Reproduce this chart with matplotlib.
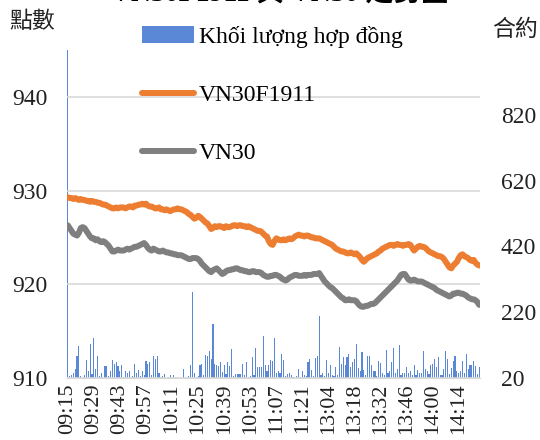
import matplotlib
matplotlib.use("Agg")
import matplotlib.pyplot as plt

plt.rcParams['font.family'] = ['Liberation Serif', 'Noto Sans CJK TC']

# time axis: morning 09:15-11:30, afternoon 13:00-14:25 (one point per minute)
morning = [f"{h:02d}:{m:02d}" for h in (9, 10, 11) for m in range(60)
           if "09:15" <= f"{h:02d}:{m:02d}" <= "11:30"]
afternoon = [f"{h:02d}:{m:02d}" for h in (13, 14) for m in range(60)
             if "13:00" <= f"{h:02d}:{m:02d}" <= "14:25"]
times = morning + afternoon

vn30f = [929.3, 929.2, 929.2, 929.1, 929.2, 929.1, 929.0, 929.1, 929.0, 929.0,
         928.9, 928.9, 928.8, 928.9, 928.8, 928.8, 928.7, 928.7, 928.6, 928.5,
         928.5, 928.4, 928.3, 928.2, 928.1, 928.1, 928.2, 928.1, 928.2, 928.2,
         928.2, 928.1, 928.2, 928.3, 928.3, 928.2, 928.4, 928.4, 928.5, 928.5,
         928.6, 928.5, 928.6, 928.4, 928.3, 928.3, 928.2, 928.1, 928.1, 928.2,
         928.0, 928.0, 927.9, 928.0, 927.9, 927.8, 927.9, 928.0, 928.0, 928.1,
         928.0, 928.0, 927.9, 927.8, 927.7, 927.5, 927.4, 927.2, 927.0, 927.1,
         927.3, 927.2, 927.0, 926.8, 926.6, 926.5, 926.2, 925.9, 926.0, 926.2,
         926.1, 926.2, 926.2, 926.1, 926.0, 926.2, 926.1, 926.1, 926.2, 926.3,
         926.3, 926.2, 926.3, 926.3, 926.2, 926.2, 926.1, 926.2, 926.1, 926.0,
         925.9, 925.8, 925.7, 925.7, 925.6, 925.4, 925.2, 925.1, 924.6, 924.3,
         924.2, 924.6, 924.9, 924.8, 924.7, 924.7, 924.8, 924.7, 924.8, 924.9,
         924.8, 924.9, 925.1, 925.2, 925.3, 925.2, 925.2, 925.1, 925.2, 925.2,
         925.1, 925.0, 925.0, 924.9, 924.9, 924.9, 924.8, 924.7, 924.6, 924.5,
         924.4, 924.3, 924.2, 924.0, 923.8, 923.7, 923.6, 923.5, 923.5, 923.4,
         923.3, 923.3, 923.4, 923.3, 923.2, 923.3, 923.1, 922.9, 922.6, 922.4,
         922.6, 922.8, 922.9, 923.0, 923.1, 923.2, 923.3, 923.5, 923.6, 923.8,
         923.9, 924.0, 924.1, 924.2, 924.2, 924.1, 924.2, 924.3, 924.2, 924.2,
         924.1, 924.2, 924.2, 924.3, 924.2, 923.9, 923.6, 923.8, 924.0, 924.1,
         924.0, 924.0, 923.9, 923.7, 923.5, 923.4, 923.3, 923.2, 923.1, 923.0,
         923.0, 922.9, 922.7, 922.4, 922.1, 921.8, 921.7, 922.0, 922.2, 922.4,
         922.8, 923.1, 923.2, 923.0, 922.9, 922.8, 922.6, 922.5, 922.6, 922.3,
         922.1, 922.0]

vn30 = [926.3, 926.0, 925.7, 925.4, 925.3, 925.2, 925.5, 926.0, 926.1, 926.0,
        925.7, 925.4, 925.1, 924.9, 924.9, 924.7, 924.8, 924.6, 924.5, 924.6,
        924.5, 924.3, 924.1, 923.8, 923.5, 923.5, 923.6, 923.7, 923.6, 923.6,
        923.6, 923.7, 923.8, 923.7, 923.8, 923.9, 924.0, 924.0, 924.1, 924.2,
        924.3, 924.4, 924.2, 923.9, 923.7, 923.6, 923.8, 923.7, 923.6, 923.5,
        923.5, 923.6, 923.5, 923.4, 923.4, 923.3, 923.3, 923.2, 923.2, 923.1,
        923.1, 923.1, 923.0, 922.9, 922.8, 922.7, 922.7, 922.8, 922.8, 922.8,
        922.7, 922.5, 922.2, 922.0, 921.8, 921.6, 921.4, 921.3, 921.5, 921.6,
        921.7, 921.5, 921.3, 921.1, 921.2, 921.4, 921.5, 921.5, 921.6, 921.6,
        921.7, 921.7, 921.6, 921.5, 921.5, 921.4, 921.4, 921.3, 921.3, 921.4,
        921.4, 921.3, 921.3, 921.3, 921.2, 921.0, 920.9, 920.8, 920.8, 920.9,
        920.9, 921.0, 921.0, 920.9, 920.8, 920.6, 920.5, 920.4, 920.5, 920.7,
        920.8, 920.9, 921.0, 921.0, 920.9, 920.9, 920.9, 921.0, 920.9, 921.0,
        921.0, 921.0, 921.1, 921.1, 921.1, 921.2, 920.9, 920.6, 920.3, 920.1,
        919.9, 919.7, 919.6, 919.4, 919.2, 919.0, 918.8, 918.6, 918.5, 918.3,
        918.3, 918.4, 918.3, 918.3, 918.3, 918.2, 917.9, 917.7, 917.6, 917.6,
        917.7, 917.7, 917.8, 917.9, 917.9, 918.0, 918.2, 918.4, 918.6, 918.8,
        919.0, 919.2, 919.4, 919.6, 919.8, 920.0, 920.2, 920.4, 920.7, 921.0,
        921.1, 921.1, 920.8, 920.5, 920.4, 920.4, 920.5, 920.4, 920.3, 920.3,
        920.3, 920.2, 920.1, 920.0, 919.9, 919.8, 919.7, 919.6, 919.4, 919.3,
        919.2, 919.1, 919.0, 918.9, 918.8, 918.7, 918.8, 919.0, 919.0, 919.1,
        919.1, 919.0, 919.0, 918.9, 918.8, 918.6, 918.5, 918.4, 918.4, 918.3,
        918.1, 917.8]

volume = [1100, 25, 30, 35, 47, 86, 116, 25, 20, 30,
          74, 40, 122, 32, 141, 47, 86, 25, 35, 20,
          56, 56, 25, 41, 74, 62, 68, 56, 41, 59,
          22, 41, 35, 41, 20, 25, 62, 35, 44, 25,
          41, 30, 71, 62, 68, 30, 86, 77, 86, 35,
          22, 26, 32, 20, 22, 30, 20, 28, 20, 20,
          20, 20, 47, 20, 20, 25, 59, 281, 35, 22,
          25, 59, 62, 28, 90, 86, 102, 77, 184, 62,
          59, 56, 68, 38, 59, 32, 68, 56, 108, 25,
          32, 32, 32, 32, 62, 28, 68, 22, 25, 83,
          30, 111, 53, 53, 53, 147, 59, 41, 59, 74,
          71, 141, 35, 41, 35, 92, 74, 25, 32, 35,
          28, 22, 20, 25, 47, 22, 41, 30, 25, 68,
          77, 44, 25, 80, 86, 208, 30, 35, 25, 74,
          35, 59, 28, 25, 53, 30, 114, 62, 83, 59,
          83, 92, 53, 68, 77, 123, 50, 41, 99, 44,
          30, 86, 86, 59, 41, 41, 25, 71, 65, 35,
          28, 104, 35, 41, 68, 111, 35, 47, 120, 30,
          35, 35, 53, 35, 41, 28, 59, 28, 44, 35,
          35, 102, 47, 41, 32, 59, 62, 77, 53, 83,
          30, 30, 47, 102, 77, 32, 50, 71, 86, 41,
          35, 41, 71, 35, 92, 47, 59, 59, 71, 56,
          32, 53]

x = list(range(len(times)))

fig = plt.figure(figsize=(5.4, 4.4), dpi=100)
ax = fig.add_axes([67/540, 1-378/440, (480-67)/540, (378-50)/440])
ax2 = ax.twinx()

# volume bars on the right axis, drawn behind the lines
ax2.bar(x, volume, width=0.6, color="#5a88d6", linewidth=0, label="Khối lượng hợp đồng")
ax2.set_ylim(20, 1017)
ax2.set_yticks([20, 220, 420, 620, 820])

l1, = ax.plot(x, vn30f, color="#ed7d31", lw=4.3, solid_capstyle="round", label="VN30F1911")
l2, = ax.plot(x, vn30, color="#7f7f7f", lw=4.3, solid_capstyle="round", label="VN30")
ax.set_ylim(910, 945)
ax.set_yticks([910, 920, 930, 940])
ax.set_xlim(-0.4, len(times) - 0.6)
ax.set_zorder(ax2.get_zorder() + 1)
ax.patch.set_visible(False)

ax.grid(axis="y", color="#d9d9d9", lw=1.2)
ax.set_axisbelow(True)
ax.set_xticks(x[::14])
ax.set_xticklabels(times[::14], rotation=90, fontsize=16)

for a in (ax, ax2):
    for s in a.spines.values():
        s.set_visible(False)
    a.tick_params(length=0)
ax.spines["bottom"].set_visible(True)
ax.spines["bottom"].set_color("#d9d9d9")
ax.tick_params(axis="y", labelsize=17, pad=14, colors="#222222")
ax.tick_params(axis="x", pad=4, colors="#222222")
ax2.tick_params(axis="y", labelsize=17, pad=15, colors="#222222")

fig.text(9/540, 1-22/440, "點數", fontsize=16.5, va="center", ha="left", color="#222222")
fig.text(492/540, 1-30/440, "合約", fontsize=16.5, va="center", ha="left", color="#222222")

# title, mostly above the canvas (the reference shows only its lower edge)
fig.text(280/540, 1-2/440, "VN30F1911 與 VN30 走勢圖", fontsize=20, fontweight="bold",
         ha="center", va="baseline")

handles = [ax2.containers[0], l1, l2]
fig.legend(handles, [h.get_label() for h in handles], loc="upper left",
           bbox_to_anchor=(142/540, 1-26/440), frameon=False, fontsize=17,
           handlelength=2.2, handletextpad=0.2, labelspacing=1.55, borderpad=0,
           borderaxespad=0)

fig.savefig("out.png", dpi=100)
